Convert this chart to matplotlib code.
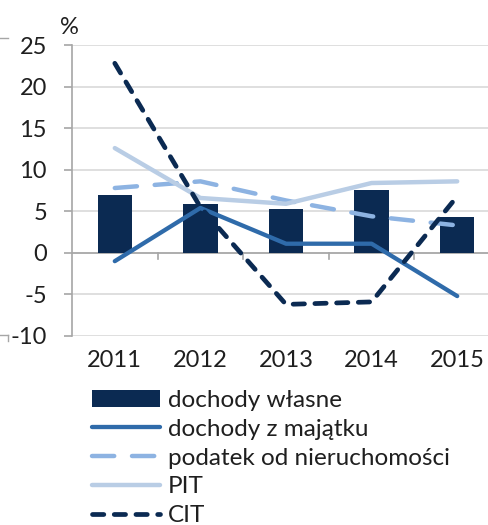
import matplotlib.pyplot as plt
from matplotlib.lines import Line2D
import numpy as np

plt.rcParams['font.family'] = ['Lato', 'DejaVu Sans']

years = ['2011', '2012', '2013', '2014', '2015']
dochody_wlasne = [6.9, 5.9, 5.3, 7.6, 4.3]
dochody_majatek = [-1.0, 5.4, 1.1, 1.1, -5.2]
podatek_nier = [7.8, 8.6, 6.3, 4.4, 3.3]
pit = [12.6, 6.6, 5.9, 8.4, 8.6]
cit = [22.8, 5.5, -6.2, -5.9, 6.8]
y_ticks = [-10, -5, 0, 5, 10, 15, 20, 25]

# Colours
navy = '#0B2A52'
mid_blue = '#2F6BAA'
dash_blue = '#8DB3E2'
pale_blue = '#B9CDE5'
grid_col = '#D9D9D9'
axis_col = '#A6A6A6'
text_col = '#1F1F1F'

W, H = 489, 525
fs = 17
fig = plt.figure(figsize=(W / 100, H / 100), dpi=100)
ax = fig.add_axes([72 / W, (H - 336) / H, 428 / W, 291 / H])

x = np.arange(len(years))
ax.bar(x, dochody_wlasne, width=0.4, color=navy, zorder=2, label='dochody własne')
ax.plot(x, dochody_majatek, color=mid_blue, lw=3.1, solid_capstyle='round',
        zorder=3, label='dochody z majątku')
ax.plot(x, podatek_nier, color=dash_blue, lw=3.2, dashes=(5, 4),
        dash_capstyle='round', zorder=3, label='podatek od nieruchomości')
ax.plot(x, pit, color=pale_blue, lw=3.2, solid_capstyle='round',
        zorder=3, label='PIT')
ax.plot(x, cit, color=navy, lw=3.4, dashes=(2.4, 2.2),
        dash_capstyle='round', zorder=4, label='CIT')

ax.set_xlim(-0.5, len(years) - 0.5)
ax.set_ylim(-10, 25)
ax.set_yticks(y_ticks)
ax.set_yticklabels([str(v) for v in y_ticks], fontsize=fs, color=text_col)
ax.set_xticks([])
for s in ['top', 'right', 'bottom']:
    ax.spines[s].set_visible(False)
ax.spines['left'].set_color(axis_col)
ax.spines['left'].set_linewidth(1.2)
ax.tick_params(axis='y', length=6, color=axis_col, width=1.2, pad=12)
ax.yaxis.grid(True, color=grid_col, lw=1.2, zorder=0)
ax.set_axisbelow(True)

# zero axis line with category separators
ax.axhline(0, color=axis_col, lw=1.2, zorder=1)
for b in np.arange(0.5, len(years) - 0.5, 1):
    ax.plot([b, b], [0, -0.7], color=axis_col, lw=1.2, zorder=1, clip_on=False)

# category labels below the plot area
for i, yr in enumerate(years):
    ax.text(i, -12.9, yr, ha='center', va='center', fontsize=fs, color=text_col)

fig.text(60 / W, 1 - 27 / H, '%', ha='left', va='center', fontsize=fs, color=text_col)

# remnants of the frame at the left edge
fig.add_artist(Line2D([0, 8 / W], [1 - 38 / H, 1 - 38 / H], color=axis_col, lw=1))
fig.add_artist(Line2D([0, 8 / W], [1 - 335 / H, 1 - 335 / H], color=axis_col, lw=1))
fig.add_artist(Line2D([8 / W, 8 / W], [1 - 335 / H, 1 - 341 / H], color=axis_col, lw=1))

handles, labels = ax.get_legend_handles_labels()
order = [4, 0, 1, 2, 3]
handles = [handles[i] for i in order]
labels = [labels[i] for i in order]
leg = fig.legend(handles, labels, loc='upper left', bbox_to_anchor=(92 / W, 1 - 390 / H),
                 frameon=False, fontsize=17.5, handlelength=2.8, handletextpad=0.33,
                 labelspacing=0.32, borderpad=0, borderaxespad=0)
for t in leg.get_texts():
    t.set_color(text_col)

fig.savefig('out.png', dpi=100)
